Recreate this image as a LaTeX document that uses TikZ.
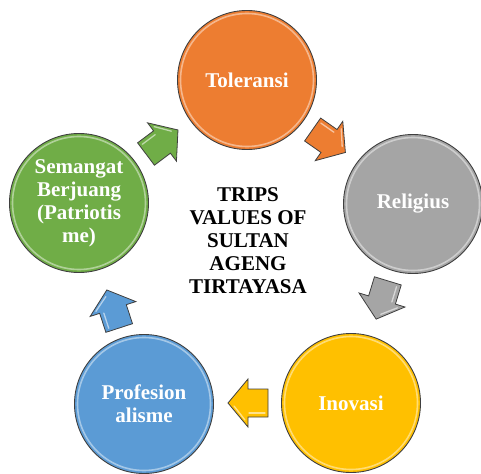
\documentclass[tikz,border=0pt]{standalone}
\usepackage{fontspec}
\setmainfont{Liberation Serif}
\definecolor{corange}{HTML}{ED7D31}
\definecolor{cgray}{HTML}{A5A5A5}
\definecolor{cyellow}{HTML}{FFC000}
\definecolor{cblue}{HTML}{5B9BD5}
\definecolor{cgreen}{HTML}{70AD47}
\definecolor{edge}{HTML}{3F3F3F}
\tikzset{
  ball/.style={circle, minimum size=139pt, inner sep=0pt, draw=edge, line width=0.9pt,
    text=white, font=\fontsize{21}{23}\selectfont\bfseries, align=center},
  centertext/.style={font=\fontsize{21}{23}\selectfont\bfseries, align=center, text=black},
  blockarrow/.style={draw=edge, line width=0.8pt, line join=miter},
  shine/.style={white, opacity=0.55, line width=1.3pt, line cap=round}
}
\newcommand{\rimring}[1]{\draw[white, opacity=0.45, line width=1.6pt] (#1.center) circle[radius=66.5pt];}
\newcommand{\barrow}[4]{%
  \begin{scope}[shift={(#1,#2)}, rotate=#3]
    \filldraw[blockarrow, fill=#4] (-20,-14) -- (0,-14) -- (0,-24) -- (20,0) -- (0,24) -- (0,14) -- (-20,14) -- cycle;
    \draw[shine] (-17,-10) -- (-1,-10);
    \draw[shine] (3,-17) -- (14,-3);
  \end{scope}}
\begin{document}
\begin{tikzpicture}[x=1pt, y=-1pt]
\useasboundingbox (0,0) rectangle (481,473);
% circles
\node[ball, fill=corange] (tol) at (247,80) {Toleransi};
\node[ball, fill=cgray] (rel) at (413,204) {Religius};
\node[ball, fill=cyellow] (ino) at (351,403) {Inovasi};
\node[ball, fill=cblue] (pro) at (144,404) {Profesion\\alisme};
\node[ball, fill=cgreen] (sem) at (79,203) {Semangat\\Berjuang\\(Patriotis\\me)};
\rimring{tol}\rimring{rel}\rimring{ino}\rimring{pro}\rimring{sem}
% center text
\node[centertext] (title) at (248,241) {TRIPS\\VALUES OF\\SULTAN\\AGENG\\TIRTAYASA};
% arrows (screen angle theta -> rotate = -theta)
\barrow{162}{142}{37}{cgreen}
\barrow{329}{141}{-35}{corange}
\barrow{382}{300}{-107}{cgray}
\barrow{248}{403}{180}{cyellow}
\barrow{113}{309}{108}{cblue}
\end{tikzpicture}
\end{document}
